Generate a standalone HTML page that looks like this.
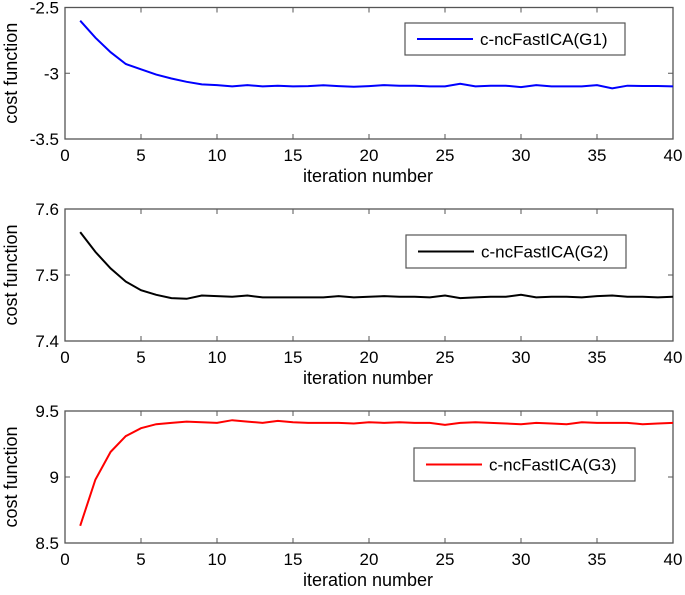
<!DOCTYPE html>
<html><head><meta charset="utf-8"><style>
body{margin:0;background:#fff}
svg text{font-family:"Liberation Sans",Arial,sans-serif;fill:#000}
</style></head><body>
<svg id="c" width="685" height="590" xmlns="http://www.w3.org/2000/svg"></svg>
<script>
const iterations=[];for(let i=1;i<=40;i++)iterations.push(i);
const g1Values=[-2.6,-2.73,-2.84,-2.93,-2.97,-3.01,-3.04,-3.065,-3.085,-3.09,-3.1,-3.09,-3.1,-3.095,-3.1,-3.098,-3.092,-3.098,-3.103,-3.098,-3.09,-3.095,-3.095,-3.1,-3.1,-3.08,-3.1,-3.095,-3.095,-3.105,-3.09,-3.1,-3.1,-3.1,-3.09,-3.115,-3.095,-3.097,-3.097,-3.1];
const g2Values=[7.565,7.535,7.51,7.49,7.477,7.47,7.465,7.464,7.469,7.468,7.467,7.469,7.466,7.466,7.466,7.466,7.466,7.468,7.466,7.467,7.468,7.467,7.467,7.466,7.469,7.465,7.466,7.467,7.467,7.47,7.466,7.467,7.467,7.466,7.468,7.469,7.467,7.467,7.466,7.467];
const g3Values=[8.63,8.98,9.19,9.31,9.37,9.40,9.41,9.42,9.415,9.41,9.43,9.42,9.41,9.425,9.415,9.41,9.41,9.41,9.405,9.415,9.41,9.415,9.41,9.41,9.395,9.41,9.415,9.41,9.405,9.40,9.41,9.405,9.40,9.415,9.41,9.41,9.41,9.40,9.405,9.41];
const xTicks=[0,5,10,15,20,25,30,35,40];
const g1Ticks=[-3.5,-3,-2.5], g1TickLabels=["-3.5","-3","-2.5"];
const g2Ticks=[7.4,7.5,7.6], g2TickLabels=["7.4","7.5","7.6"];
const g3Ticks=[8.5,9,9.5], g3TickLabels=["8.5","9","9.5"];
const legendLabels=["c-ncFastICA(G1)","c-ncFastICA(G2)","c-ncFastICA(G3)"];

const svg=document.getElementById('c');const NS="http://www.w3.org/2000/svg";
function mk(t,a,p){const e=document.createElementNS(NS,t);for(const k in a)e.setAttribute(k,a[k]);(p||svg).appendChild(e);return e;}
const L=65,R=673;
function panel(idx,top,bot,ymin,ymax,vals,ticks,labels,color,leg){
  const g=mk('g',{});
  
  
  const sx=v=>L+(v/40)*(R-L), sy=v=>bot-(v-ymin)/(ymax-ymin)*(bot-top);
  const fr=mk('rect',{x:L,y:top,width:R-L,height:bot-top,fill:'none',stroke:'#555','stroke-width':1.3},g);
  
  
  xTicks.forEach(t=>{
    const x=sx(t);
    mk('line',{x1:x,x2:x,y1:bot,y2:bot-5,stroke:'#555'},g);
    mk('line',{x1:x,x2:x,y1:top,y2:top+5,stroke:'#555'},g);
    const tx=mk('text',{x:x,y:bot+22,'font-size':17,'text-anchor':'middle'},g);tx.textContent=t;
    
    
  });
  ticks.forEach((t,i)=>{
    const y=sy(t);
    mk('line',{x1:L,x2:L+5,y1:y,y2:y,stroke:'#555'},g);
    mk('line',{x1:R,x2:R-5,y1:y,y2:y,stroke:'#555'},g);
    const tx=mk('text',{x:L-6,y:y+6,'font-size':17,'text-anchor':'end'},g);tx.textContent=labels[i];
    
    
  });
  const xl=mk('text',{x:368,y:bot+43,'font-size':18,'text-anchor':'middle'},g);xl.textContent='iteration number';
  
  
  const cy=(top+bot)/2;
  const yl=mk('text',{x:17,y:cy,'font-size':18,'text-anchor':'middle',transform:`rotate(-90 17 ${cy})`},g);yl.textContent='cost function';
  
  
  const pts=vals.map((v,i)=>sx(iterations[i]).toFixed(1)+','+sy(v).toFixed(1)).join(' ');
  const pl=mk('polyline',{points:pts,fill:'none',stroke:color,'stroke-width':2},g);
  
  
  const lg=mk('g',{},g);
  
  
  mk('rect',{x:leg[0],y:leg[1],width:leg[2]-leg[0],height:leg[3]-leg[1],fill:'#fff',stroke:'#555','stroke-width':1.2},lg);
  const my=(leg[1]+leg[3])/2;
  mk('line',{x1:leg[0]+12,x2:leg[0]+68,y1:my,y2:my,stroke:color,'stroke-width':2},lg);
  const lt=mk('text',{x:leg[0]+75,y:my+6,'font-size':17},lg);lt.textContent=legendLabels[idx];
  
  
}
panel(0,7.5,139,-3.5,-2.5,g1Values,g1Ticks,g1TickLabels,'#0000ff',[405,23,625,55]);
panel(1,209,341,7.4,7.6,g2Values,g2Ticks,g2TickLabels,'#000',[406,235,626,268]);
panel(2,411,543,8.5,9.5,g3Values,g3Ticks,g3TickLabels,'#ff0000',[414,448,635,481]);
</script>
</body></html>
